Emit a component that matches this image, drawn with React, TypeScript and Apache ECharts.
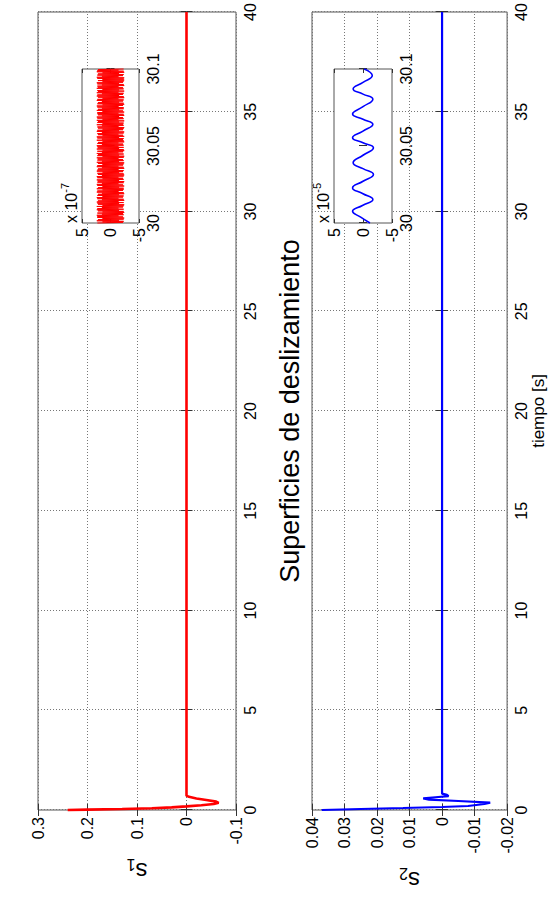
import React, { useEffect, useRef } from "react";
import * as echarts from "echarts";

const TITLE = "Superficies de deslizamiento";
const X_NAME = "tiempo [s]";

// main traces
const s1Time = [0, 0.02, 0.05, 0.09, 0.13, 0.18, 0.24, 0.3, 0.36, 0.42, 0.5, 0.58, 0.66, 0.72, 40];
const s1Vals = [0.24, 0.2, 0.13, 0.07, 0.03, 0.0, -0.03, -0.055, -0.065, -0.06, -0.04, -0.02, -0.005, 0, 0];

const s2Time = [0, 0.05, 0.1, 0.15, 0.2, 0.3, 0.37, 0.45, 0.52, 0.58, 0.64, 0.7, 0.76, 0.82, 40];
const s2Vals = [0.037, 0.025, 0.012, 0.0, -0.008, -0.013, -0.0148, -0.005, 0.004, 0.0058, 0.002, -0.002, -0.0015, 0, 0];

// inset 1 (s1 chattering, units of 1e-7), sampled evenly over 30..30.1 s
const inset1Vals = [
  2.3, -2.2, 1.4, -2.3, 2.4, -1.5, 2.2, -2.3, 1.4, -2.4, 2.3, -2.2, 2.3, -1.4, 2.4, -2.3, 1.5, -2.2, 2.3, -2.4,
  1.4, -2.3, 2.2, -1.5, 2.4, -2.3, 2.3, -1.4, 1.5, -2.2, 2.4, -2.3, 1.4, -2.4, 2.2, -1.5, 2.3, -2.3, 2.4, -1.4,
  2.2, -2.4, 1.5, -2.3, 2.3, -1.4, 2.4, -2.2, 1.4, -2.3, 2.3, -1.5, 2.2, -2.4, 1.5, -2.3, 2.4, -1.4, 2.3, -2.2,
  1.4, -2.3, 2.4, -2.3, 2.2, -1.5, 1.4, -2.4, 2.3, -2.2, 2.4, -1.4, 1.5, -2.3, 2.3, -2.4, 2.2, -1.5, 2.4, -2.3,
  1.4, -2.2, 2.3, -1.4, 2.4, -2.3, 1.5, -2.4, 2.2, -2.3, 2.3, -1.5, 1.4, -2.2, 2.4, -2.3, 2.3, -1.4, 2.2, -2.4,
  1.5, -2.3, 2.4, -1.4, 2.3, -2.2, 1.4, -2.3, 2.2, -2.4, 2.4, -1.5, 1.5, -2.3, 2.3, -2.2, 2.2, -1.4, 2.4, -2.3,
  1.4, -2.4, 2.3, -1.5, 2.2, -2.3, 2.4, -1.4, 1.5, -2.2, 2.3, -2.4, 1.4, -2.3, 2.4, -1.5, 2.2, -2.3, 2.3, -1.4,
  2.4, -2.3, 1.5, -2.2, 2.3, -1.4, 2.2, -2.4, 1.4, -2.3, 2.4, -2.2, 1.5, -2.3, 2.3, -1.5, 2.4, -2.4, 1.4, -2.2,
  2.2, -1.4, 2.3, -2.3, 1.5, -2.4, 2.4, -1.5, 2.3, -2.2, 1.4, -2.3, 2.2, -2.4, 2.3, -1.4, 1.5, -2.3, 2.4, -2.2,
  1.4, -2.3, 2.3, -1.5, 2.2, -2.4, 2.4, -1.4, 1.4, -2.3, 2.3, -2.2, 2.4, -1.5, 1.5, -2.4, 2.2, -2.3, 2.3, -1.4,
  2.3, -2.4, 1.4, -2.2, 2.4, -1.5, 2.2, -2.3, 1.5, -2.3, 2.3, -1.4, 2.4, -2.2, 1.4, -2.4, 2.3, -2.3, 2.2, -1.5,
  1.5, -2.2, 2.4, -2.3, 2.3, -1.4, 1.4, -2.4, 2.2, -2.3, 2.4, -1.5, 2.3, -2.2, 1.5, -2.3, 2.4, -1.4, 2.2, -2.4,
  2.3, -1.5, 1.4, -2.3, 2.4, -2.2, 2.2, -1.4, 2.3, -2.4, 1.5, -2.3, 2.3, -1.5, 2.4, -2.2, 1.4, -2.3, 2.2, -2.4,
  1.4, -2.3, 2.3, -2.4, 2.4, -1.4, 1.5, -2.2, 2.3, -2.3, 2.2, -1.5, 1.4, -2.4, 2.4, -2.3, 2.3, -1.4, 2.2, -2.3,
];

// inset 2 (s2 oscillation, units of 1e-5)
const inset2Time = [
  30.0, 30.0038, 30.0076, 30.0114, 30.0152, 30.019, 30.0228, 30.0271, 30.0315, 30.0353, 30.0391, 30.044,
  30.0489, 30.0521, 30.0554, 30.0597, 30.0641, 30.0674, 30.0707, 30.0755, 30.0804, 30.0837, 30.087, 30.0913,
  30.0957, 30.1,
];
const inset2Vals = [
  -1.2, 0.4, 1.8, 0.1, -1.7, 0.0, 1.8, 0.0, -1.8, 0.0, 1.7, 0.0, -1.8, 0.0, 1.8, 0.0, -1.7, 0.0, 1.8, 0.0,
  -1.7, 0.0, 1.7, 0.0, -1.6, -0.2,
];

const FONT = "'Liberation Sans', Arial, Helvetica, sans-serif";
const TICK = 16;

const fmt = (v: number) => String(parseFloat(v.toFixed(3)));

function mainX(grid: number, pos: "bottom" | "top", labels: boolean, extra: any = {}) {
  return {
    type: "value",
    gridIndex: grid,
    position: pos,
    min: 0,
    max: 40,
    interval: 5,
    axisLine: { show: false },
    axisTick: { show: true, inside: true, length: 6, lineStyle: { color: "#333" } },
    axisLabel: { show: labels, margin: 6, fontSize: TICK, color: "#000", fontFamily: FONT },
    splitLine: labels
      ? { show: true, lineStyle: { type: [1, 2], color: "#777", width: 1 } }
      : { show: false },
    ...extra,
  };
}

function mainY(grid: number, pos: "left" | "right", min: number, max: number, iv: number, labels: boolean, extra: any = {}) {
  return {
    type: "value",
    gridIndex: grid,
    position: pos,
    min,
    max,
    interval: iv,
    axisLine: { show: false },
    axisTick: { show: true, inside: true, length: 6, lineStyle: { color: "#333" } },
    axisLabel: { show: labels, margin: 7, fontSize: TICK, color: "#000", fontFamily: FONT, formatter: fmt },
    splitLine: labels
      ? { show: true, lineStyle: { type: [1, 2], color: "#777", width: 1 } }
      : { show: false },
    ...extra,
  };
}

function insetX(grid: number, pos: "bottom" | "top", labels: boolean) {
  return {
    type: "value",
    gridIndex: grid,
    position: pos,
    min: 30,
    max: 30.1,
    interval: 0.05,
    z: 5,
    axisLine: { show: false },
    axisTick: { show: true, inside: true, length: 4, lineStyle: { color: "#333" } },
    axisLabel: {
      show: labels,
      margin: 6,
      fontSize: TICK,
      color: "#000",
      fontFamily: FONT,
      formatter: (v: number) => String(parseFloat(v.toFixed(2))),
    },
    splitLine: { show: false },
  };
}

function insetY(grid: number, pos: "left" | "right", scale: number, exp: string, labels: boolean) {
  return {
    type: "value",
    gridIndex: grid,
    position: pos,
    min: -5 * scale,
    max: 5 * scale,
    interval: 5 * scale,
    z: 5,
    name: labels ? `{a|x 10}{b|${exp}}` : "",
    nameLocation: "end",
    nameGap: 3,
    nameTextStyle: {
      align: "left",
      verticalAlign: "bottom",
      fontFamily: FONT,
      rich: {
        a: { fontSize: TICK, color: "#000", fontFamily: FONT, lineHeight: 20, verticalAlign: "bottom" },
        b: { fontSize: 11, color: "#000", fontFamily: FONT, lineHeight: 20, verticalAlign: "top" },
      },
    },
    axisLine: { show: false },
    axisTick: { show: true, inside: true, length: 4, lineStyle: { color: "#333" } },
    axisLabel: {
      show: labels,
      margin: 5,
      fontSize: TICK,
      color: "#000",
      fontFamily: FONT,
      formatter: (v: number) => String(Math.round(v / scale)),
    },
    splitLine: { show: false },
  };
}

const yName = (sub: string, gap: number) => ({
  name: `{s|s}{n|${sub}}`,
  nameLocation: "middle",
  nameGap: gap,
  nameRotate: 90,
  nameTextStyle: {
    fontFamily: FONT,
    rich: {
      s: { fontSize: 24, color: "#000", fontFamily: FONT, lineHeight: 30, verticalAlign: "middle" },
      n: { fontSize: 16, color: "#000", fontFamily: FONT, lineHeight: 30, verticalAlign: "bottom" },
    },
  },
});

export default function App() {
  const ref = useRef<HTMLDivElement>(null);
  useEffect(() => {
    const chart = echarts.init(ref.current!, undefined, { renderer: "svg" });
    const n = inset1Vals.length;
    const inset1Data = inset1Vals.map((v, i) => [30 + (0.1 * i) / (n - 1), v * 1e-7]);
    const option: any = {
      animation: false,
      backgroundColor: "#fff",
      textStyle: { fontFamily: FONT },
      grid: [
        { left: 93, top: 38, width: 798, height: 198, show: true, borderColor: "#555", borderWidth: 1, backgroundColor: "transparent" },
        { left: 93, top: 312, width: 798, height: 199, show: true, borderColor: "#555", borderWidth: 1, backgroundColor: "transparent" },
        { left: 680, top: 82, width: 154, height: 57, show: true, borderColor: "#555", borderWidth: 1, backgroundColor: "#fff", z: 5 },
        { left: 680, top: 334, width: 154, height: 58, show: true, borderColor: "#555", borderWidth: 1, backgroundColor: "#fff", z: 5 },
      ],
      xAxis: [
        mainX(0, "bottom", true),
        mainX(1, "bottom", true, {
          name: X_NAME,
          nameLocation: "middle",
          nameGap: 20,
          nameTextStyle: { fontSize: 17, color: "#000", fontFamily: FONT, verticalAlign: "top" },
        }),
        insetX(2, "bottom", true),
        insetX(3, "bottom", true),
        mainX(0, "top", false),
        mainX(1, "top", false),
        insetX(2, "top", false),
        insetX(3, "top", false),
      ],
      yAxis: [
        mainY(0, "left", -0.1, 0.3, 0.1, true, yName("1", 46)),
        mainY(1, "left", -0.02, 0.04, 0.01, true, yName("2", 55)),
        insetY(2, "left", 1e-7, "-7", true),
        insetY(3, "left", 1e-5, "-5", true),
        mainY(0, "right", -0.1, 0.3, 0.1, false),
        mainY(1, "right", -0.02, 0.04, 0.01, false),
        insetY(2, "right", 1e-7, "-7", false),
        insetY(3, "right", 1e-5, "-5", false),
      ],
      graphic: [
        {
          type: "text",
          x: 492,
          y: 290,
          z: 10,
          style: {
            text: TITLE,
            font: `27px ${FONT}`,
            fill: "#000",
            align: "center",
            verticalAlign: "middle",
          },
        },
      ],
      series: [
        {
          type: "line",
          xAxisIndex: 0,
          yAxisIndex: 0,
          data: s1Time.map((t, i) => [t, s1Vals[i]]),
          showSymbol: false,
          lineStyle: { color: "#ff0000", width: 2.6 },
          itemStyle: { color: "#ff0000" },
          z: 3,
        },
        {
          type: "line",
          xAxisIndex: 1,
          yAxisIndex: 1,
          data: s2Time.map((t, i) => [t, s2Vals[i]]),
          showSymbol: false,
          lineStyle: { color: "#0000ff", width: 2.2 },
          itemStyle: { color: "#0000ff" },
          z: 3,
        },
        {
          type: "line",
          xAxisIndex: 2,
          yAxisIndex: 2,
          data: inset1Data,
          showSymbol: false,
          lineStyle: { color: "#ff0000", width: 1 },
          itemStyle: { color: "#ff0000" },
          z: 6,
        },
        {
          type: "line",
          xAxisIndex: 3,
          yAxisIndex: 3,
          data: inset2Time.map((t, i) => [t, inset2Vals[i] * 1e-5]),
          showSymbol: false,
          smooth: 0.5,
          lineStyle: { color: "#0000ff", width: 1.6 },
          itemStyle: { color: "#0000ff" },
          z: 6,
        },
      ],
    };
    chart.setOption(option);
    return () => chart.dispose();
  }, []);
  return (
    <div
      style={{
        position: "fixed",
        left: 0,
        top: 0,
        width: 548,
        height: 903,
        overflow: "hidden",
        background: "#fff",
      }}
    >
      <div
        ref={ref}
        style={{
          position: "absolute",
          left: 0,
          top: 0,
          width: 903,
          height: 548,
          transformOrigin: "0 0",
          transform: "translateY(903px) rotate(-90deg)",
        }}
      />
    </div>
  );
}
